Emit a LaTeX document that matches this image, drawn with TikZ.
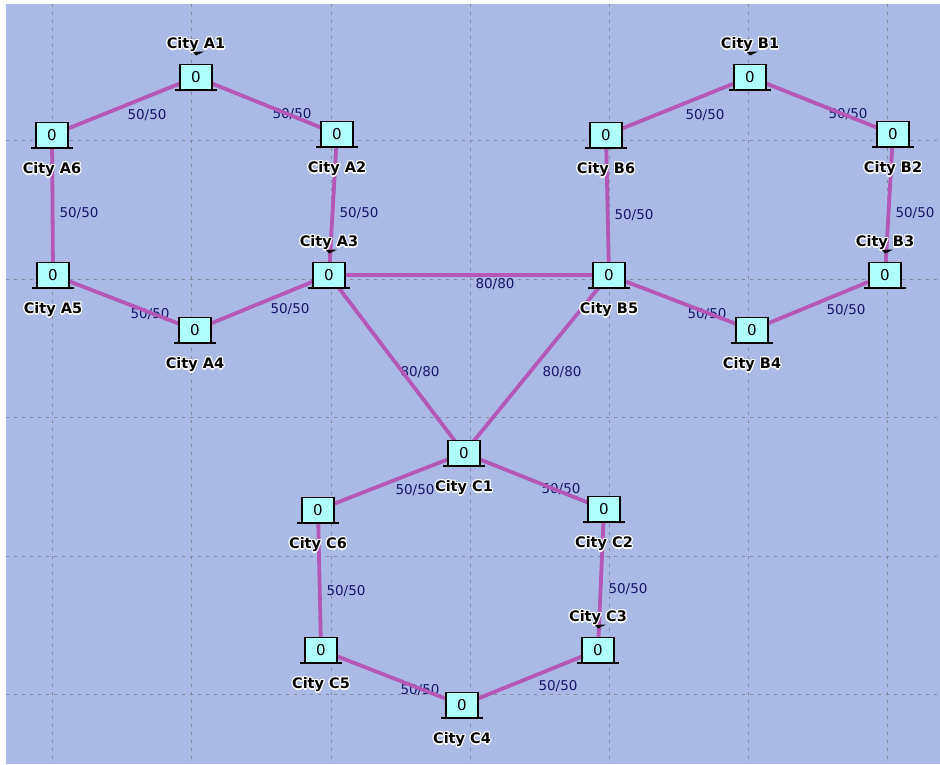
\documentclass[tikz,border=0pt]{standalone}
\usepackage{fontspec}
\setmainfont{DejaVu Sans}
\definecolor{bgc}{RGB}{171,185,230}
\definecolor{edgec}{RGB}{180,88,184}
\definecolor{boxc}{RGB}{175,255,255}
\definecolor{elabc}{RGB}{22,22,105}
\definecolor{gridc}{RGB}{135,135,155}
\tikzset{
  link/.style={draw=edgec, line width=3.8pt},
  elabel/.style={text=elabc, font=\fontsize{13.5}{14}\selectfont, inner sep=0pt},
  citybox/.style={draw=black, fill=boxc, minimum width=32pt, minimum height=25pt, line width=1.1pt, inner sep=0pt, font=\fontsize{15}{15}\selectfont},
  cityname/.style={font=\bfseries\fontsize{14.5}{15}\selectfont, inner sep=0pt},
  gridline/.style={draw=gridc, line width=0.9pt, dash pattern=on 3pt off 5pt},
  basebar/.style={draw=black, line width=1.3pt},
}
\newcommand\citylabel[4]{% name, coordinate, dy, text
  \foreach \dx/\dy in {-1.2/0,1.2/0,0/-1.2,0/1.2,-1/-1,1/1,-1/1,1/-1}
    \node[cityname,text=white] at ([shift={(\dx,\dy+#3)}]#2) {#4};
  \node[cityname] (#1) at ([shift={(0,#3)}]#2) {#4};
}
\newcommand\citymark[1]{%
  \fill[black] ([shift={(-3,-25)}]#1) -- ([shift={(8,-25.5)}]#1) -- ([shift={(0,-21.5)}]#1) -- cycle;
}
\newcommand\citynode[1]{%
  \node[citybox] (#1box) at (#1) {0};
  \draw[basebar] ([xshift=-4pt]#1box.south west) -- ([xshift=4pt]#1box.south east);
}
\begin{document}
\begin{tikzpicture}[x=1pt,y=-1pt]
\useasboundingbox (0,0) rectangle (940,764);
\fill[white] (0,0) rectangle (940,764);
\fill[bgc] (6,4) rectangle (940,764);
% grid
\foreach \x in {52,191.5,331,470,609,748,887.5} \draw[gridline] (\x,4) -- (\x,764);
\foreach \y in {140,279,417.5,556,694} \draw[gridline] (6,\y) -- (940,\y);
% node positions
\coordinate (A1) at (196,77);
\coordinate (A2) at (337,134);
\coordinate (A3) at (329,275);
\coordinate (A4) at (195,330);
\coordinate (A5) at (53,275);
\coordinate (A6) at (52,135);
\coordinate (B1) at (750,77);
\coordinate (B2) at (893,134);
\coordinate (B3) at (885,275);
\coordinate (B4) at (752,330);
\coordinate (B5) at (609,275);
\coordinate (B6) at (606,135);
\coordinate (C1) at (464,453);
\coordinate (C2) at (604,509);
\coordinate (C3) at (598,650);
\coordinate (C4) at (462,705);
\coordinate (C5) at (321,650);
\coordinate (C6) at (318,510);
% edge labels
\node[elabel] (lA16) at (147,115) {50/50};
\node[elabel] (lA12) at (292,114) {50/50};
\node[elabel] (lA23) at (359,213) {50/50};
\node[elabel] (lA65) at (79,213) {50/50};
\node[elabel] (lA54) at (150,314) {50/50};
\node[elabel] (lA43) at (290,309) {50/50};
\node[elabel] (lAB) at (495,284) {80/80};
\node[elabel] (lAC) at (420,372) {80/80};
\node[elabel] (lBC) at (562,372) {80/80};
\node[elabel] (lB16) at (705,115) {50/50};
\node[elabel] (lB12) at (848,114) {50/50};
\node[elabel] (lB65) at (634,215) {50/50};
\node[elabel] (lB23) at (915,213) {50/50};
\node[elabel] (lB34) at (846,310) {50/50};
\node[elabel] (lB54) at (707,314) {50/50};
\node[elabel] (lC16) at (415,490) {50/50};
\node[elabel] (lC12) at (561,489) {50/50};
\node[elabel] (lC23) at (628,589) {50/50};
\node[elabel] (lC65) at (346,591) {50/50};
\node[elabel] (lC54) at (420,690) {50/50};
\node[elabel] (lC43) at (558,686) {50/50};
% links
\draw[link] (A1) -- (A2) -- (A3) -- (A4) -- (A5) -- (A6) -- cycle;
\draw[link] (B1) -- (B2) -- (B3) -- (B4) -- (B5) -- (B6) -- cycle;
\draw[link] (C1) -- (C2) -- (C3) -- (C4) -- (C5) -- (C6) -- cycle;
\draw[link] (A3) -- (B5) -- (C1) -- (A3);
% boxes
\foreach \n in {A1,A2,A3,A4,A5,A6,B1,B2,B3,B4,B5,B6,C1,C2,C3,C4,C5,C6} {\citynode{\n}}
% names
\citylabel{nA1}{A1}{-32}{City A1}
\citylabel{nA2}{A2}{35}{City A2}
\citylabel{nA3}{A3}{-32}{City A3}
\citylabel{nA4}{A4}{35}{City A4}
\citylabel{nA5}{A5}{35}{City A5}
\citylabel{nA6}{A6}{35}{City A6}
\citylabel{nB1}{B1}{-32}{City B1}
\citylabel{nB2}{B2}{35}{City B2}
\citylabel{nB3}{B3}{-32}{City B3}
\citylabel{nB4}{B4}{35}{City B4}
\citylabel{nB5}{B5}{35}{City B5}
\citylabel{nB6}{B6}{35}{City B6}
\citylabel{nC1}{C1}{35}{City C1}
\citylabel{nC2}{C2}{35}{City C2}
\citylabel{nC3}{C3}{-32}{City C3}
\citylabel{nC4}{C4}{35}{City C4}
\citylabel{nC5}{C5}{35}{City C5}
\citylabel{nC6}{C6}{35}{City C6}
\citymark{A1}
\citymark{A3}
\citymark{B1}
\citymark{B3}
\citymark{C3}
\end{tikzpicture}
\end{document}
